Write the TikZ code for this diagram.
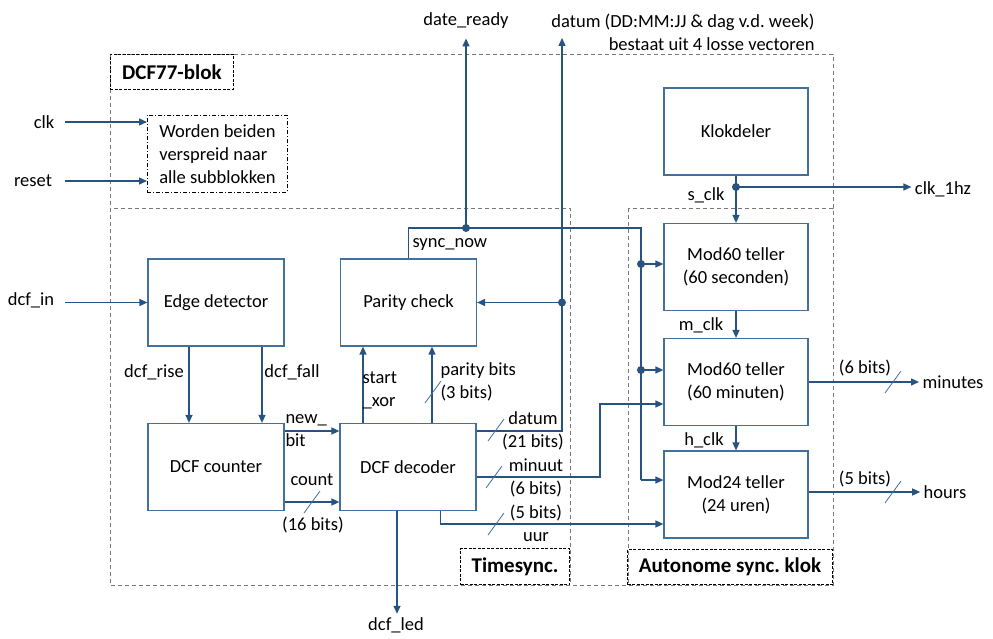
\documentclass[tikz,border=0pt]{standalone}
\usepackage{fontspec}
\setmainfont{Carlito}
\usetikzlibrary{arrows.meta,positioning}

\definecolor{draadkleur}{RGB}{40,82,128}
\definecolor{kaderblauw}{RGB}{65,113,156}
\definecolor{streepgrijs}{RGB}{120,120,120}

\tikzset{
    blok/.style={draw=kaderblauw, line width=1.2pt, minimum width=136pt, minimum height=87pt},
    klokblok/.style={blok, minimum width=144pt, align=center},
    draad/.style={draw=draadkleur, line width=1.4pt},
    pijl/.style={draad, -{Triangle[length=8pt,width=7pt]}},
    stippel/.style={draw=streepgrijs, line width=0.9pt, dash pattern=on 4pt off 3pt},
    titel/.style={draw, line width=0.9pt, dash pattern=on 3pt off 1.5pt, font=\fontsize{21}{24}\selectfont\bfseries},
    notitie/.style={draw, line width=0.9pt, dash pattern=on 4pt off 2pt on 1pt off 2pt},
    busstreepje/.style={draw=kaderblauw, line width=0.8pt},
}
\newcommand{\busstreep}[1]{\draw[busstreepje] #1 ++(-8,11) -- ++(16,-22);}

\begin{document}
\begin{tikzpicture}[x=1pt, y=-1pt, font=\fontsize{18.5}{23}\selectfont]
\useasboundingbox (0,0) rectangle (993,639);

% kaders
\draw[stippel] (110,54) rectangle (833,585);
\draw[stippel] (110,208) rectangle (570,585);
\draw[stippel] (628,208) rectangle (833,585);
\node[titel, anchor=north west, minimum width=123pt, minimum height=35pt] (titeldcf) at (110,54) {DCF77-blok};
\node[titel, anchor=south east, minimum width=109pt, minimum height=36pt] (titelsync) at (570,585) {Timesync.};
\node[titel, anchor=south east, minimum width=205pt, minimum height=35pt] (titelklok) at (833,585) {Autonome sync.\ klok};

% blokken
\node[blok] (edge) at (216,302.5) {Edge detector};
\node[blok] (parity) at (408.5,302.5) {Parity check};
\node[blok] (counter) at (216,467) {DCF counter};
\node[blok] (decoder) at (408,467) {DCF decoder};
\node[klokblok] (klokdeler) at (736,131.5) {Klokdeler};
\node[klokblok] (modsec) at (736,267) {Mod60 teller\\(60 seconden)};
\node[klokblok] (modmin) at (736,382) {Mod60 teller\\(60 minuten)};
\node[klokblok] (moduur) at (736,494.5) {Mod24 teller\\(24 uren)};
\node[notitie, anchor=north west, minimum width=140pt, minimum height=77pt, align=left] (worden) at (147,115) {Worden beiden\\verspreid naar\\alle subblokken};

% ingangen
\coordinate (inx) at (65,0);
\node (clk) at (44,122) {clk};
\node (reset) at (33,181) {reset};
\node (dcfin) at (31,300) {dcf\_in};
\draw[pijl] (inx |- clk) -- (worden.west |- clk);
\draw[pijl] (inx |- reset) -- (worden.west |- reset);
\draw[pijl] (inx |- edge.west) -- (edge.west);

% edge detector -> counter
\draw[pijl] ([xshift=-27pt]edge.south) -- ([xshift=-27pt]counter.north);
\draw[pijl] ([xshift=46pt]edge.south) -- ([xshift=46pt]counter.north);
\node (lblrise) at (154,372) {dcf\_rise};
\node (lblfall) at (292,372) {dcf\_fall};

% counter -> decoder
\draw[pijl] ([yshift=36pt]counter.east) -- ([yshift=36pt]counter.east -| decoder.west);
\draw[pijl] ([yshift=-35pt]counter.east) -- ([yshift=-35pt]counter.east -| decoder.west);
\busstreep{(312,502)}
\node[anchor=west, align=left] (lblnewbit) at (282,431) {new\_\\bit};
\node (lblcount) at (312,480) {count};
\node (lblcountbits) at (313,525) {(16 bits)};

% decoder -> parity check
\draw[pijl] ([xshift=-45pt]decoder.north) -- ([xshift=-45pt]decoder.north |- parity.south);
\draw[pijl] ([xshift=24pt]decoder.north) -- ([xshift=24pt]decoder.north |- parity.south);
\busstreep{(433,392)}
\node[anchor=west, align=left] (lblxor) at (359,390) {start\\\_xor};
\node[anchor=west, align=left] (lblparbits) at (437,382) {parity bits\\(3 bits)};

% sync_now
\coordinate (busboven) at (641,228);
\coordinate (busonder) at (641,480);
\coordinate (syncdot) at (466,228);
\coordinate (secdot) at (641,264);
\coordinate (mindot) at (641,370);
\draw[draad] (parity.north) |- (busboven) -- (busonder);
\draw[pijl] (busonder) -- (busonder -| moduur.west);
\draw[pijl] (secdot) -- (secdot -| modsec.west);
\draw[pijl] (mindot) -- (mindot -| modmin.west);
\node[anchor=west] (lblsync) at (409,245) {sync\_now};
\node (dateready) at (466,21) {date\_ready};
\draw[pijl] (syncdot) -- ([yshift=-6pt]dateready.south);

% datum
\coordinate (datumboven) at (562,38);
\coordinate (datumdot) at (562,302.5);
\draw[pijl] ([yshift=36pt]decoder.east) -| (datumboven);
\draw[pijl] (datumdot) -- (parity.east);
\busstreep{(496,430)}
\node[align=center] (lbldatum) at (533,431) {datum\\(21 bits)};
\node[anchor=east, align=right] (datumtekst) at (818,32) {datum (DD:MM:JJ \& dag v.d.\ week)\\bestaat uit 4 losse vectoren};

% minuut
\coordinate (minknik) at (600,404);
\draw[pijl] ([yshift=-10pt]decoder.east) -| (minknik) -- (minknik -| modmin.west);
\busstreep{(494,477)}
\node[align=center] (lblminuut) at (536,478) {minuut\\(6 bits)};

% uur
\draw[pijl] ([xshift=32.5pt]decoder.south) |- ([yshift=-29.5pt]moduur.west);
\busstreep{(496,524)}
\node[align=center] (lbluur) at (536,523) {(5 bits)\\uur};

% dcf_led
\node (dcfled) at (396,625) {dcf\_led};
\draw[pijl] ([xshift=-11pt]decoder.south) -- ([xshift=-11pt]decoder.south |- dcfled.north);

% klokdeler en tellers
\coordinate (sclkdot) at (736,187);
\node (clk1hz) at (943,189) {clk\_1hz};
\draw[draad] (klokdeler.south) -- (sclkdot);
\draw[pijl] (sclkdot) -- (modsec.north);
\draw[pijl] (sclkdot) -- (sclkdot -| clk1hz.west);
\draw[pijl] (modsec.south) -- (modmin.north);
\draw[pijl] (modmin.south) -- (moduur.north);
\node (lblsclk) at (706,195) {s\_clk};
\node (lblmclk) at (701,325) {m\_clk};
\node (lblhclk) at (704,440) {h\_clk};

% uitgangen
\node (minutes) at (953,382) {minutes};
\node (hours) at (945,492) {hours};
\draw[pijl] (modmin.east) -- (modmin.east -| minutes.west);
\draw[pijl] ([yshift=2.5pt]moduur.east) -- ([yshift=2.5pt]moduur.east -| hours.west);
\busstreep{(893,382)}
\busstreep{(893,492)}
\node (lblminbits) at (865,368) {(6 bits)};
\node (lbluurbits) at (865,479) {(5 bits)};

% knooppunten
\foreach \k in {syncdot, datumdot, secdot, mindot, sclkdot}
    \fill[draadkleur] (\k) circle (4pt);

\end{tikzpicture}
\end{document}
